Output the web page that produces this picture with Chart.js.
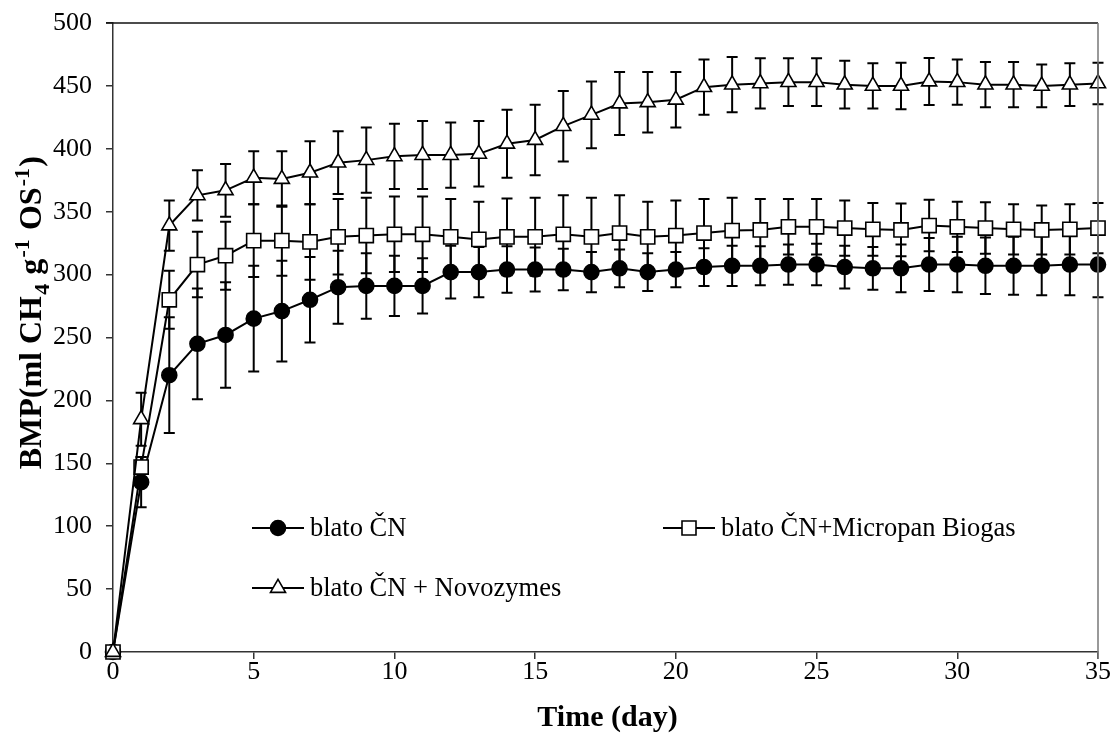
<!DOCTYPE html>
<html><head><meta charset="utf-8">
<script src="https://cdn.jsdelivr.net/npm/chart.js@4.4.1/dist/chart.umd.min.js"></script>
<style>html,body{margin:0;padding:0;background:#fff;}#wrap{width:1114px;height:749px;}</style>
</head><body><div id="wrap"><canvas id="c" width="1114" height="749"></canvas></div>
<script>
// ---- data ----
const days = [0,1,2,3,4,5,6,7,8,9,10,11,12,13,14,15,16,17,18,19,20,21,22,23,24,25,26,27,28,29,30,31,32,33,34,35];
const blatoCN     = [0,135,220,245,252,265,271,280,290,291,291,291,302,302,304,304,304,302,305,302,304,306,307,307,308,308,306,305,305,308,308,307,307,307,308,308];
const blatoCNErr  = [0,20,46,44,42,42,40,34,29,26,24,22,21,20,18.5,17.5,16.5,16,15,15,14,15,16,15.5,16,16.5,17,17,19,21,22,22.5,23,23.5,24.5,26];
const micropan    = [0,147,280,308,315,327,327,326,330,331,332,332,330,328,330,330,332,330,333,330,331,333,335,335.5,338,338,337,336,335.5,339,338,337,336,335.5,336,337];
const micropanErr = [0,8,23,26,27,29,28,30,30,30,30,30,30,30,30.5,31,31,31,30,28,28,27,26,24.5,22,22,22,21,21,20.5,20,20.5,20,19.5,20,20];
const novozymes   = [0,185,339,363,367,377,376,381,389,391,394,395,395,396,404,407,418,427,436,437,439,449,451,452,453,453,451,450,450,453.5,453,451,451,450,451,452];
const novozymesErr= [0,21,20,20,21,21,22,25,25,26,26,27,26,26,27,28,28,26.5,25,24,22,22,22,20,19,19,19,18,18.5,18.6,18,18,18,17,17,16.5];
const seriesNames = ['blato ČN','blato ČN+Micropan Biogas','blato ČN + Novozymes'];
const xTitle = 'Time (day)';
const xTicksStep = 5, yTicksStep = 50;

const FONT = 'Liberation Serif, "Times New Roman", serif';

function pts(vals){ return days.map((d,i)=>({x:d,y:vals[i]})); }

const errorBars = {
  id:'errorBars',
  beforeDatasetsDraw(chart){
    const ctx = chart.ctx, ys = chart.scales.y;
    chart.data.datasets.forEach((ds,di)=>{
      const meta = chart.getDatasetMeta(di);
      ctx.save();
      ctx.strokeStyle = '#000'; ctx.lineWidth = 2;
      meta.data.forEach((el,i)=>{
        const e = ds.errors[i]; if(!e) return;
        const v = ds.data[i].y;
        const x = el.x, y1 = ys.getPixelForValue(v+e), y2 = ys.getPixelForValue(v-e);
        ctx.beginPath();
        ctx.moveTo(x,y1); ctx.lineTo(x,y2);
        ctx.moveTo(x-5.5,y1); ctx.lineTo(x+5.5,y1);
        ctx.moveTo(x-5.5,y2); ctx.lineTo(x+5.5,y2);
        ctx.stroke();
      });
      ctx.restore();
    });
  }
};

function marker(ctx, style, x, y, fill){
  ctx.save();
  ctx.fillStyle = fill; ctx.strokeStyle = '#000'; ctx.lineWidth = 1.6;
  ctx.beginPath();
  if(style==='circle'){ ctx.arc(x,y,7.5,0,Math.PI*2); }
  else if(style==='rect'){ ctx.rect(x-7,y-7,14,14); }
  else { const r=8.7; ctx.moveTo(x,y-r); ctx.lineTo(x+r*0.866,y+r/2); ctx.lineTo(x-r*0.866,y+r/2); ctx.closePath(); }
  ctx.fill(); ctx.stroke();
  ctx.restore();
}

const decor = {
  id:'decor',
  afterDraw(chart){
    const ctx = chart.ctx, a = chart.chartArea;
    ctx.save();
    // frame top & right
    ctx.lineWidth = 1.5;
    ctx.strokeStyle = '#111';
    ctx.beginPath(); ctx.moveTo(a.left-7,a.top); ctx.lineTo(a.right,a.top); ctx.stroke();
    ctx.strokeStyle = '#777';
    ctx.beginPath(); ctx.moveTo(a.right,a.top); ctx.lineTo(a.right,a.bottom+7); ctx.stroke();
    // legend
    const items = [
      {i:0, x:a.left+139, y:a.top+505, style:'circle', fill:'#000'},
      {i:2, x:a.left+139, y:a.top+565, style:'triangle', fill:'#fff'},
      {i:1, x:a.left+550, y:a.top+505, style:'rect', fill:'#fff'}
    ];
    ctx.font = '26.5px ' + FONT; ctx.fillStyle = '#000'; ctx.textBaseline = 'middle'; ctx.textAlign='left';
    items.forEach(it=>{
      ctx.strokeStyle='#000'; ctx.lineWidth=2;
      ctx.beginPath(); ctx.moveTo(it.x,it.y); ctx.lineTo(it.x+52,it.y); ctx.stroke();
      marker(ctx,it.style,it.x+26,it.y,it.fill);
      ctx.fillText(seriesNames[it.i], it.x+58, it.y+1);
    });
    // x-axis title
    ctx.font = 'bold 30px ' + FONT; ctx.textAlign='center'; ctx.textBaseline='alphabetic';
    ctx.fillText(xTitle, (a.left+a.right)/2 + 2, a.bottom + 74);
    // y-axis title with sub/superscripts
    ctx.textAlign='left';
    const big = 'bold 32px ' + FONT, small = 'bold 22px ' + FONT;
    const segs = [
      {t:'BMP(ml CH', f:big, dy:0},
      {t:'4', f:small, dy:8},
      {t:' g', f:big, dy:0},
      {t:'-1', f:small, dy:-12},
      {t:' OS', f:big, dy:0},
      {t:'-1', f:small, dy:-12},
      {t:')', f:big, dy:0}
    ];
    let total = 0;
    segs.forEach(s=>{ ctx.font=s.f; s.w=ctx.measureText(s.t).width; total+=s.w; });
    total += 8; // slightly wider spacing, as in the reference
    const endY = a.top + 132;
    ctx.translate(41, endY + total/2);
    ctx.rotate(-Math.PI/2);
    let cx = -total/2;
    segs.forEach(s=>{ ctx.font=s.f; ctx.fillText(s.t, cx, s.dy); cx+=s.w + 8/7; });
    ctx.restore();
  }
};

new Chart(document.getElementById('c'), {
  type:'line',
  data:{
    datasets:[
      {label:seriesNames[0], data:pts(blatoCN), errors:blatoCNErr, order:3, borderColor:'#000', borderWidth:2, clip:false,
       pointStyle:'circle', pointRadius:7.5, pointBackgroundColor:'#000', pointBorderColor:'#000', pointBorderWidth:1.6, tension:0},
      {label:seriesNames[1], data:pts(micropan), errors:micropanErr, order:2, borderColor:'#000', borderWidth:2, clip:false,
       pointStyle:'rect', pointRadius:10, pointBackgroundColor:'#fff', pointBorderColor:'#000', pointBorderWidth:1.6, tension:0},
      {label:seriesNames[2], data:pts(novozymes), errors:novozymesErr, order:1, borderColor:'#000', borderWidth:2, clip:false,
       pointStyle:'triangle', pointRadius:8.7, pointBackgroundColor:'#fff', pointBorderColor:'#000', pointBorderWidth:1.6, tension:0}
    ]
  },
  options:{
    responsive:false, animation:false, devicePixelRatio:1,
    layout:{padding:{left:0, top:23, right:16, bottom:0}},
    plugins:{legend:{display:false}, tooltip:{enabled:false}},
    scales:{
      x:{type:'linear', min:0, max:35,
         ticks:{stepSize:xTicksStep, color:'#000', font:{family:FONT, size:26}, padding:-2, maxRotation:0},
         grid:{display:true, drawOnChartArea:false, drawTicks:true, tickLength:7, color:'#333', lineWidth:1.5},
         border:{display:true, color:'#333', width:1.5},
         afterFit(s){ s.height = 97; s.paddingLeft = 0; s.paddingRight = 0; }
      },
      y:{min:0, max:500,
         ticks:{stepSize:yTicksStep, color:'#000', font:{family:FONT, size:26}, padding:14},
         grid:{display:true, drawOnChartArea:false, drawTicks:true, tickLength:7, color:'#333', lineWidth:1.5},
         border:{display:true, color:'#333', width:1.5},
         afterFit(s){ s.width = 113; s.paddingTop = 0; s.paddingBottom = 0; }
      }
    }
  },
  plugins:[errorBars, decor]
});
</script></body></html>
